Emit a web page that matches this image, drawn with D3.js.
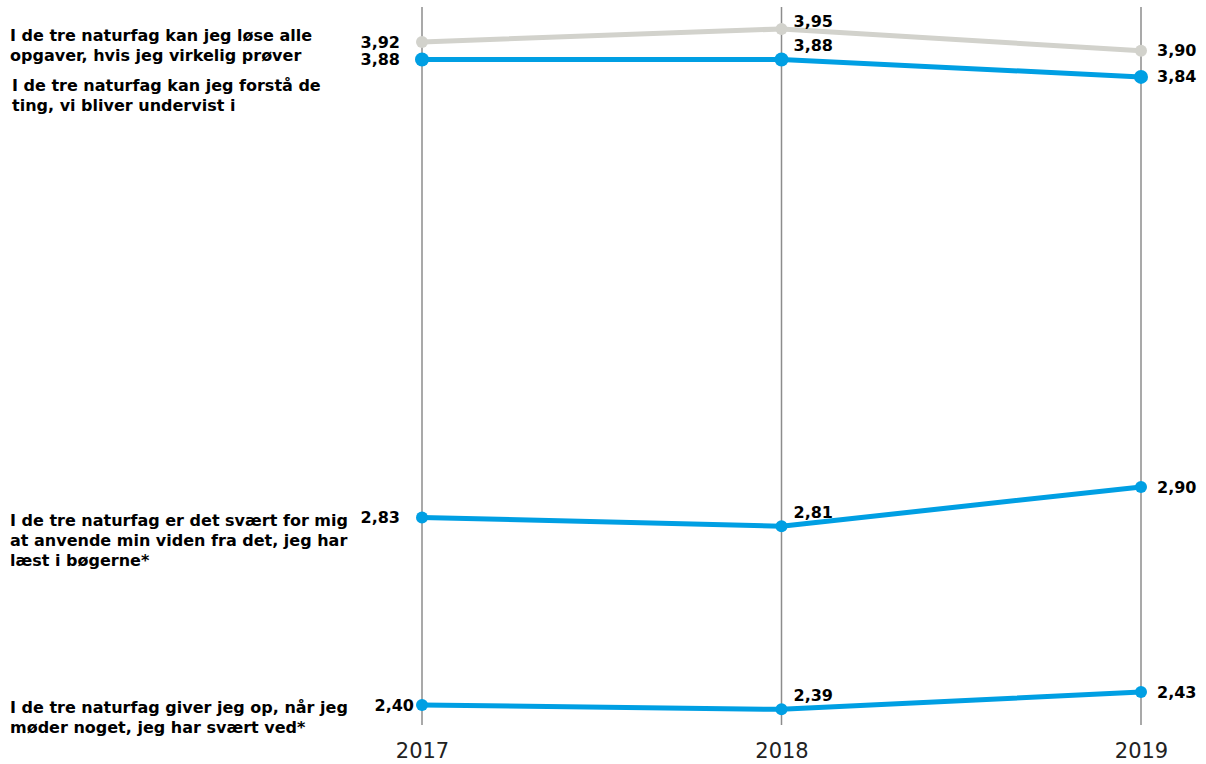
<!DOCTYPE html>
<html>
<head>
<meta charset="utf-8">
<script src="https://cdn.jsdelivr.net/npm/d3@7"></script>
<style>
  html, body { margin: 0; padding: 0; background: #fff; }
  svg { display: block; font-family: "DejaVu Sans", Verdana, sans-serif; }
</style>
</head>
<body>
<svg id="chart" width="1206" height="764"></svg>
<script>
// Survey years on the x axis
const years = ["2017", "2018", "2019"];

// Statement texts (one array of wrapped lines per series)
const statementLines = [
  ["I de tre naturfag kan jeg løse alle", "opgaver, hvis jeg virkelig prøver"],
  ["I de tre naturfag kan jeg forstå de", "ting, vi bliver undervist i"],
  ["I de tre naturfag er det svært for mig", "at anvende min viden fra det, jeg har", "læst i bøgerne*"],
  ["I de tre naturfag giver jeg op, når jeg", "møder noget, jeg har svært ved*"]
];

// Mean scores per statement, by year
const scoresSolveAll   = [3.92, 3.95, 3.90];
const scoresUnderstand = [3.88, 3.88, 3.84];
const scoresApplyHard  = [2.83, 2.81, 2.90];
const scoresGiveUp     = [2.40, 2.39, 2.43];

const seriesValues = [scoresSolveAll, scoresUnderstand, scoresApplyHard, scoresGiveUp];
const seriesColors = ["#d2d2cc", "#009fe3", "#009fe3", "#009fe3"];

const svg = d3.select("#chart");

const x = d3.scalePoint().domain(years).range([422, 1141]);
const y = d3.scaleLinear().domain([2.40, 3.92]).range([705, 42]);

const fmt = v => d3.format(".2f")(v).replace(".", ",");

// Vertical year guides
svg.append("g").selectAll("line")
  .data(years)
  .join("line")
  .attr("x1", d => x(d)).attr("x2", d => x(d))
  .attr("y1", 7).attr("y2", 725)
  .attr("stroke", "#8c8c8c")
  .attr("stroke-width", 1.5);

// Year axis labels
const xAxis = d3.axisBottom(x).tickSize(0).tickPadding(0);
const axisG = svg.append("g").attr("transform", "translate(0,758)").call(xAxis);
axisG.select(".domain").remove();
axisG.selectAll("text")
  .attr("font-family", "DejaVu Sans, Verdana, sans-serif")
  .attr("font-size", 21)
  .attr("fill", "#222")
  .attr("y", 0)
  .attr("dy", 0);

const line = d3.line().x((d, i) => x(years[i])).y(d => y(d));

// Draw series back to front so the grey line sits beneath the blue one
seriesValues.forEach((vals, s) => {
  const color = seriesColors[s];
  const r = s === 1 ? 7 : 6;
  const g = svg.append("g");
  g.append("path")
    .datum(vals)
    .attr("d", line)
    .attr("fill", "none")
    .attr("stroke", color)
    .attr("stroke-width", 5)
    .attr("stroke-linejoin", "round");
  g.selectAll("circle")
    .data(vals)
    .join("circle")
    .attr("cx", (d, i) => x(years[i]))
    .attr("cy", d => y(d))
    .attr("r", r)
    .attr("fill", color);
});

// Value labels: left of 2017, above-right of 2018, right of 2019
const labelG = svg.append("g")
  .attr("font-size", 16)
  .attr("font-weight", "bold")
  .attr("fill", "#000");

seriesValues.forEach((vals, s) => {
  vals.forEach((v, i) => {
    const px = x(years[i]), py = y(v);
    const t = labelG.append("text").text(fmt(v)).attr("dy", "0.35em");
    if (i === 0) {
      const gap = s === 3 ? 8 : 22;
      t.attr("x", px - gap).attr("y", py).attr("text-anchor", "end");
    } else if (i === 1) {
      const lift = s === 0 ? 8 : 14;
      t.attr("x", px + 12).attr("y", py - lift).attr("text-anchor", "start");
    } else {
      t.attr("x", px + 16).attr("y", py).attr("text-anchor", "start");
    }
  });
});

// Statement labels on the left
const statementTop = [35, 85, 520, 707];
const statementG = svg.append("g")
  .attr("font-size", 16)
  .attr("font-weight", "bold")
  .attr("fill", "#000");
statementLines.forEach((lines, s) => {
  const lx = s === 1 ? 12 : 10;
  const t = statementG.append("text").attr("x", lx).attr("y", statementTop[s]);
  lines.forEach((ln, k) => {
    t.append("tspan")
      .attr("x", lx)
      .attr("dy", k === 0 ? "0.35em" : "1.25em")
      .text(ln);
  });
});
</script>
</body>
</html>
